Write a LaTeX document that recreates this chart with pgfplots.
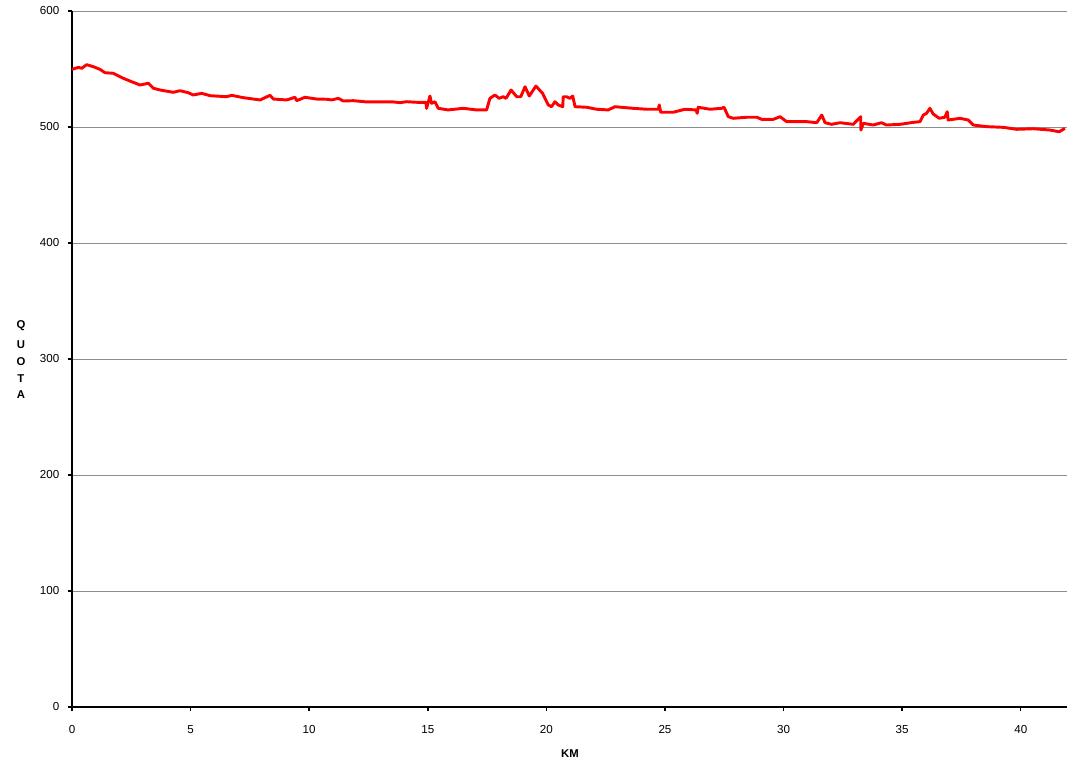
\documentclass[border=0pt]{standalone}
\usepackage{pgfplots}
\pgfplotsset{compat=1.18}
\usepackage{fontspec}
\setmainfont{Liberation Sans}
\begin{document}
\begin{tikzpicture}
\begin{axis}[
  name=ax,
  scale only axis,
  width=746.25pt, height=522pt,
  xmin=0, xmax=41.95, ymin=0, ymax=600,
  xtick={0,5,...,40}, ytick={0,100,...,600},
  axis x line*=bottom, axis y line*=left,
  axis line style={-, black, line width=1.3pt},
  tick align=outside, major tick length=3pt,
  tick style={black, line width=1.1pt},
  ymajorgrids, grid style={gray!90, line width=0.6pt},
  /pgf/number format/assume math mode=true,
  ticklabel style={font=\fontsize{8.7}{10}\selectfont},
  xticklabel style={yshift=-7pt},
  yticklabel style={xshift=-3pt},
  xlabel={\bfseries KM},
  xlabel style={font=\fontsize{8.5}{10}\selectfont, at={(axis description cs:0.5005,0)}, anchor=center, yshift=-35.25pt},
  ylabel={\bfseries\shortstack{Q\\[3.8pt]U\\[3.8pt]O\\[3.8pt]T\\[3.8pt]A}},
  ylabel style={font=\fontsize{8.5}{10}\selectfont, rotate=-90, at={(axis description cs:-0.0513,0.4986)}, anchor=center},
  clip=false,
]
\addplot[red, line width=2.2pt, line join=round] coordinates {
(0.00,549.7)(0.27,551.4)(0.41,550.6)(0.62,553.7)(0.90,552)(1.18,549.7)(1.39,546.8)(1.74,546.3)
(2.16,542)(2.52,539)(2.87,536.2)(3.22,537.7)(3.43,533.4)(3.71,531.9)(4.27,529.9)(4.55,531.3)
(4.90,529.6)(5.11,527.6)(5.47,529)(5.82,527)(6.52,526.1)(6.73,527.3)(7.22,525.3)(7.93,523.3)
(8.35,527.3)(8.49,524.1)(9.05,523.3)(9.40,525.6)(9.47,522.7)(9.82,525.6)(10.32,524.1)(10.74,523.9)
(10.95,523.3)(11.23,524.7)(11.44,522.4)(11.86,522.7)(12.42,521.6)(13.55,521.6)(13.83,521)(14.11,521.8)
(14.53,521.3)(14.92,521.3)(14.95,516.1)(15.09,526.7)(15.16,520.4)(15.30,521.8)(15.44,516.1)(15.86,514.7)
(16.49,516.1)(17.06,514.7)(17.48,514.7)(17.62,524.7)(17.83,527.6)(18.01,524.7)(18.18,526.1)(18.30,524.7)
(18.51,531.9)(18.75,526.1)(18.92,526.1)(19.10,534.7)(19.28,526.7)(19.56,535.3)(19.84,529)(20.08,519)
(20.22,517.5)(20.36,521.8)(20.50,519)(20.69,517.5)(20.71,526.1)(20.85,526.1)(20.99,524.7)(21.11,526.7)
(21.21,517.5)(21.70,517)(22.12,515.3)(22.61,514.7)(22.89,517.5)(23.66,516.1)(24.22,515.3)(24.72,515.3)
(24.76,519)(24.82,512.7)(25.35,512.7)(25.84,515.3)(26.31,514.7)(26.36,511.8)(26.40,517)(26.90,515.3)
(27.39,516.1)(27.49,517)(27.67,508.9)(27.88,507.5)(28.45,508.4)(28.87,508.4)(29.08,506.6)(29.57,506.6)
(29.85,508.9)(30.13,504.6)(30.98,504.6)(31.40,503.7)(31.61,510.3)(31.75,503.7)(32.03,502.3)(32.38,503.7)
(32.94,502.3)(33.25,508.9)(33.26,497.4)(33.36,503.2)(33.78,501.7)(34.13,503.7)(34.34,501.7)(34.91,502.3)
(35.47,504)(35.75,504.6)(35.89,510.3)(36.03,511.8)(36.17,516.1)(36.31,511.2)(36.56,507.5)(36.80,508.4)
(36.90,513.2)(36.94,506)(37.44,507.5)(37.79,506)(38.00,501.7)(38.56,500.3)(39.27,499.7)(39.83,498)
(40.53,498.5)(41.23,497.4)(41.62,495.9)(41.86,498.8)
};
\end{axis}
\pgfresetboundingbox
\path ([xshift=-54pt, yshift=-48pt]ax.south west) rectangle ([xshift=10.5pt, yshift=8.25pt]ax.north east);
\end{tikzpicture}
\end{document}
